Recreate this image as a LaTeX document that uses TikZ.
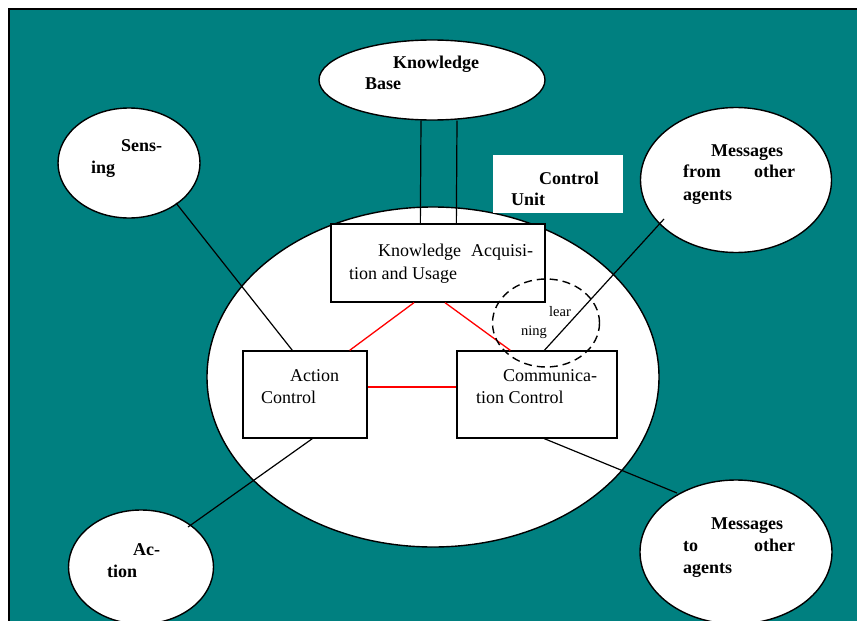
\documentclass[tikz,border=0pt]{standalone}
\usepackage{fontspec}
\setmainfont{Liberation Serif}
\usetikzlibrary{calc,shapes.geometric}
\definecolor{bgteal}{HTML}{008080}
\begin{document}
\begin{tikzpicture}[x=1pt,y=-1pt,
  ellnode/.style={ellipse, draw=black, fill=white, inner sep=0pt, line width=1.4pt},
  boxnode/.style={rectangle, draw=black, fill=white, inner sep=0pt, line width=1.3pt},
  bt/.style={font=\fontsize{18}{22}\selectfont\bfseries, inner sep=0pt, anchor=base west},
  nt/.style={font=\fontsize{18}{22}\selectfont, inner sep=0pt, anchor=base west},
  st/.style={font=\fontsize{14.5}{18}\selectfont, inner sep=0pt, anchor=base west},
  conn/.style={draw=black, line width=1.2pt},
  redconn/.style={draw=red, line width=1.3pt}]
\clip (0,0) rectangle (857,621);
\useasboundingbox (0,0) rectangle (857,621);
\fill[white] (0,0) rectangle (857,621);
\filldraw[fill=bgteal, draw=black, line width=1.6pt] (9,9) rectangle (880,650);

\node[ellnode, minimum width=452pt, minimum height=340pt] (big) at (433,377) {};
\node[ellnode, minimum width=226pt, minimum height=80pt] (kb) at (432,80) {};
\node[ellnode, minimum width=142pt, minimum height=110pt] (sens) at (129,163) {};
\node[ellnode, minimum width=191pt, minimum height=145pt] (mfrom) at (736,180) {};
\node[ellnode, minimum width=145pt, minimum height=114pt] (act) at (141,567) {};
\node[ellnode, minimum width=192pt, minimum height=144pt] (mto) at (736,552) {};
\node[rectangle, fill=white, inner sep=0pt, minimum width=130pt, minimum height=58pt] (cu) at (558,184) {};

\node[boxnode, minimum width=214pt, minimum height=78pt] (kau) at (438,263) {};
\node[boxnode, minimum width=124pt, minimum height=87pt] (ac) at (305,394.5) {};
\node[boxnode, minimum width=160pt, minimum height=87pt] (cc) at (537,394.5) {};

\draw[conn] ($(kb.south)+(-11,0)$) -- ($(kau.north west)+(90,0)$);
\draw[conn] ($(kb.south)+(25,0)$) -- ($(kau.north west)+(126,0)$);
\draw[conn] ($(sens.center)+(47,40)$) -- ($(ac.north west)+(50,0)$);
\draw[conn] ($(mfrom.center)+(-72,39)$) -- ($(cc.north west)+(88,0)$);
\draw[conn] ($(act.center)+(47,-40)$) -- ($(ac.south west)+(70,0)$);
\draw[conn] ($(mto.center)+(-59,-59)$) -- ($(cc.south west)+(88,0)$);

\draw[redconn] ($(kau.south)+(-24,0)$) -- ($(ac.north east)+(-18,0)$);
\draw[redconn] ($(kau.south)+(7,0)$) -- ($(cc.north west)+(54,0)$);
\draw[redconn, line width=1.8pt] ($(ac.east)+(0.7,-7.5)$) -- ($(cc.west)+(-0.7,-7.5)$);

\node[draw=black, ellipse, dashed, dash pattern=on 8pt off 5pt, line width=1.4pt, inner sep=0pt, minimum width=107pt, minimum height=88pt] (learn) at (546,323) {};

\node[bt] (kbt1) at (393,68) {Knowledge};
\node[bt] (kbt2) at (365,89) {Base};
\node[bt] (st1) at (121,151) {Sens-};
\node[bt] (st2) at (91,173) {ing};
\node[bt] (cut1) at (539,184) {Control};
\node[bt] (cut2) at (511,205) {Unit};
\node[bt] (mf1) at (711,156) {Messages};
\node[bt] (mf2) at (683,177) {\makebox[112pt][s]{from other}};
\node[bt] (mf3) at (683,200) {agents};
\node[nt] (k1) at (378,256) {\makebox[155pt][s]{Knowledge Acquisi-}};
\node[nt] (k2) at (349,279) {tion and Usage};
\node[nt] (a1) at (290,381) {Action};
\node[nt] (a2) at (261,403) {Control};
\node[nt] (c1) at (503,381) {Communica-};
\node[nt] (c2) at (476,403) {tion Control};
\node[st] (l1) at (549,316) {lear};
\node[st] (l2) at (521,335) {ning};
\node[bt] (at1) at (133,555) {Ac-};
\node[bt] (at2) at (107,577) {tion};
\node[bt] (mt1) at (711,529) {Messages};
\node[bt] (mt2) at (683,551) {\makebox[112pt][s]{to other}};
\node[bt] (mt3) at (683,573) {agents};
\end{tikzpicture}
\end{document}
